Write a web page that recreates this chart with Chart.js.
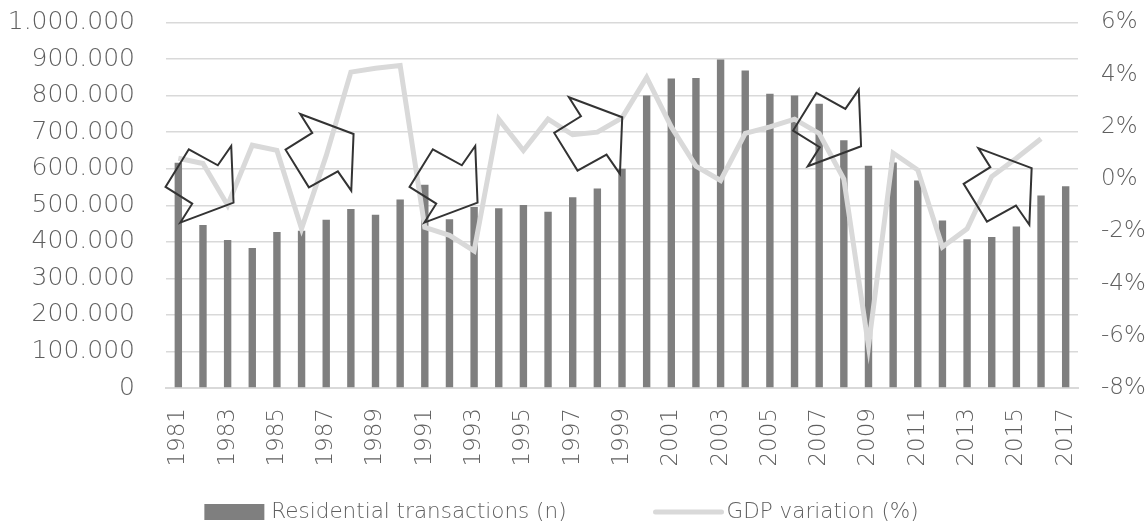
<!DOCTYPE html>
<html>
<head>
<meta charset="utf-8">
<script src="https://cdn.jsdelivr.net/npm/chart.js@4/dist/chart.umd.min.js"></script>
<style>
  body { margin: 0; background: #fff; }
  #wrap { width: 1147px; height: 523px; position: relative; }
</style>
</head>
<body>
<div id="wrap"><canvas id="chart"></canvas></div>
<script>
/* ========= Data ========= */
const years = [];
for (let y = 1981; y <= 2017; y++) years.push(String(y));

const transactions = [
  616000, 446000, 405000, 383000, 427000, 430000, 460000, 490000, 474000, 516000,
  556000, 462000, 495000, 492000, 501000, 482000, 522000, 546000, 600000, 800000,
  847000, 848000, 899000, 869000, 805000, 800000, 778000, 678000, 608000, 617000,
  568000, 458000, 407000, 413000, 442000, 527000, 552000
];

const gdpVariation = [
  0.8, 0.6, -1.0, 1.3, 1.1, -1.9, 0.9, 4.1, 4.25, 4.35,
  -1.85, -2.15, -2.75, 2.3, 1.1, 2.3, 1.7, 1.8, 2.35, 3.9,
  2.0, 0.5, -0.05, 1.75, 2.0, 2.3, 1.75, 0.0, -6.4, 1.0,
  0.35, -2.6, -1.9, 0.1, 0.8, 1.55, null
];

const seriesNames = ['Residential transactions (n)', 'GDP variation (%)'];

// arrow annotations: position on the year axis (index), level on the % axis, trend
const arrowAt    = [0.86, 5.73, 10.76, 16.63, 26.32, 33.24];
const arrowLevel = [-0.2, 1.03, -0.2, 1.67, 1.96, -0.28];
const arrowTrend = ['down', 'up', 'down', 'up', 'down', 'up'];

/* ========= Styles ========= */
const TEXT = '#5f5f5f';
const GRID = '#d9d9d9';
const BAR  = '#7f7f7f';
const LINE = '#d9d9d9';
const FONT = '"DejaVu Sans", sans-serif';

// up-pointing arrow outline, relative to its centre
const ARROW_UP = [[-19.3, -38.3], [34, -18.3], [31.7, 38.4], [18.3, 19.1], [-10.7, 35.1], [-34, -2.6], [-7.3, -19.3]];

const fmtThousands = v => String(v).replace(/\B(?=(\d{3})+(?!\d))/g, '.');

// fixed axis widths, no extra label padding above/below the plot
const fitVertical = w => s => { s.width = w; s.paddingTop = 0; s.paddingBottom = 0; };

/* ========= Plugins ========= */
const arrowPlugin = {
  id: 'arrows',
  afterDatasetsDraw(chart) {
    const { ctx, scales: { x, y1 } } = chart;
    ctx.save();
    ctx.strokeStyle = '#333';
    ctx.lineWidth = 2;
    ctx.lineJoin = 'miter';
    arrowAt.forEach((at, i) => {
      const cx = x.getPixelForValue(at);
      const cy = y1.getPixelForValue(arrowLevel[i]);
      const flip = arrowTrend[i] === 'down' ? -1 : 1;
      ctx.beginPath();
      ARROW_UP.forEach(([px, py], k) => {
        const X = cx + px, Y = cy + py * flip;
        k ? ctx.lineTo(X, Y) : ctx.moveTo(X, Y);
      });
      ctx.closePath();
      ctx.stroke();
    });
    ctx.restore();
  }
};

const legendPlugin = {
  id: 'customLegend',
  afterDraw(chart) {
    const { ctx, width, height } = chart;
    ctx.save();
    ctx.font = '200 21.5px ' + FONT;
    ctx.textBaseline = 'middle';
    const w1 = ctx.measureText(seriesNames[0]).width;
    const w2 = ctx.measureText(seriesNames[1]).width;
    const total = 60 + 7 + w1 + 89 + 66 + 5 + w2;
    let xPos = width / 2 - 12 - total / 2;
    const yMid = height - 11;

    ctx.fillStyle = BAR;
    ctx.fillRect(xPos, yMid - 8, 60, 16);
    xPos += 67;
    ctx.fillStyle = TEXT;
    ctx.fillText(seriesNames[0], xPos, yMid);
    xPos += w1 + 89;

    ctx.strokeStyle = LINE;
    ctx.lineWidth = 5;
    ctx.lineCap = 'round';
    ctx.beginPath();
    ctx.moveTo(xPos, yMid);
    ctx.lineTo(xPos + 66, yMid);
    ctx.stroke();
    xPos += 71;
    ctx.fillText(seriesNames[1], xPos, yMid);
    ctx.restore();
  }
};

const tickFont = { family: FONT, size: 23, weight: 200 };

/* ========= Chart ========= */
new Chart(document.getElementById('chart'), {
  data: {
    labels: years,
    datasets: [
      {
        type: 'bar',
        label: seriesNames[0],
        data: transactions,
        backgroundColor: BAR,
        barPercentage: 0.3,
        categoryPercentage: 1,
        yAxisID: 'y',
        order: 1
      },
      {
        type: 'line',
        label: seriesNames[1],
        data: gdpVariation,
        borderColor: LINE,
        borderWidth: 5,
        pointRadius: 0,
        tension: 0,
        yAxisID: 'y1',
        order: 0
      }
    ]
  },
  options: {
    responsive: true,
    maintainAspectRatio: false,
    animation: false,
    layout: { padding: { top: 22.5, bottom: 40, left: 0, right: 0 } },
    plugins: { legend: { display: false }, tooltip: { enabled: false } },
    scales: {
      x: {
        grid: { display: false, drawTicks: false },
        border: { display: true, color: GRID, width: 2 },
        ticks: {
          autoSkip: false,
          maxRotation: 90,
          minRotation: 90,
          padding: 20,
          color: TEXT,
          font: tickFont,
          callback: (v, i) => (i % 2 === 0 ? years[i] : '')
        },
        afterFit: s => { s.height = 95; }
      },
      y: {
        position: 'left',
        min: 0,
        max: 1000000,
        grid: { color: GRID, lineWidth: 1.5, drawTicks: false },
        border: { display: false },
        ticks: {
          stepSize: 100000,
          padding: 31,
          color: TEXT,
          font: { family: FONT, size: 25, weight: 200 },
          callback: v => fmtThousands(v)
        },
        afterFit: fitVertical(166)
      },
      y1: {
        position: 'right',
        min: -8,
        max: 6,
        grid: { display: false, drawTicks: false },
        border: { display: false },
        ticks: {
          stepSize: 2,
          padding: 23,
          color: TEXT,
          font: tickFont,
          callback: v => v + '%'
        },
        afterFit: fitVertical(69)
      }
    }
  },
  plugins: [arrowPlugin, legendPlugin]
});
</script>
</body>
</html>
